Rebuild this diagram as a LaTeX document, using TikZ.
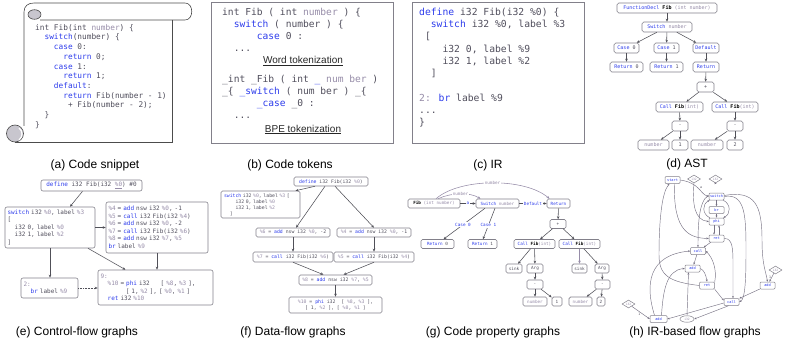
\documentclass[tikz,border=0pt]{standalone}
\usepackage{fontspec}
\setmainfont{Liberation Sans}
\newfontfamily\codefont{DejaVu Sans Mono}
\usetikzlibrary{arrows.meta,shapes.geometric}

\definecolor{kwblue}{RGB}{45,60,235}
\definecolor{codegray}{RGB}{80,78,92}
\definecolor{argray}{RGB}{150,140,168}
\definecolor{boxgray}{RGB}{130,128,138}
\definecolor{edgegray}{RGB}{80,80,88}
\definecolor{rollgray}{RGB}{200,198,206}
\definecolor{flowgray}{RGB}{120,115,132}

\newcommand\kwd[1]{\textcolor{kwblue}{#1}}
\newcommand\prm[1]{\textcolor{argray}{#1}}
\newcommand\fnb[1]{\textcolor{black}{\bfseries #1}}
\newcommand\cind[1]{\hspace*{#1\fontcharwd\font`0\relax}}

\tikzset{
  figcap/.style={font=\fontsize{12}{14}\selectfont, anchor=base, inner sep=0pt},
  toklbl/.style={font=\fontsize{10}{12}\selectfont, anchor=base, inner sep=0pt, text=black!85},
  panelbox/.style={draw=boxgray, line width=0.7pt},
  scrollln/.style={draw=black!70, line width=0.6pt},
  codeblk/.style={anchor=north west, align=left, inner sep=0pt, text=codegray},
  arr/.style={-{Stealth[length=3pt,width=2.5pt]}, draw=edgegray, line width=0.55pt},
  harr/.style={-{Stealth[length=2.3pt,width=1.9pt]}, draw=flowgray, line width=0.45pt},
  astn/.style={draw=boxgray, line width=0.55pt, rounded corners=1.8pt, inner sep=0pt,
    minimum height=10pt, font=\codefont\fontsize{5}{6}\selectfont, text=kwblue},
  cfgblk/.style={draw=boxgray, line width=0.6pt, rounded corners=2pt, align=left,
    inner ysep=0pt, inner xsep=2.5pt, text=codegray, font=\codefont\fontsize{6}{7.5}\selectfont},
  dfn/.style={draw=boxgray, line width=0.55pt, rounded corners=1.6pt, inner sep=0pt,
    minimum height=9pt, text=codegray, font=\codefont\fontsize{4.8}{6}\selectfont},
  cpn/.style={draw=boxgray, line width=0.55pt, rounded corners=1.6pt, inner sep=0pt,
    minimum height=9pt, text=codegray, font=\codefont\fontsize{4.3}{5}\selectfont},
  cplbl/.style={font=\codefont\fontsize{4.3}{5}\selectfont, inner sep=0.6pt, fill=white},
  irn/.style={draw=boxgray, line width=0.5pt, rounded corners=1pt, inner sep=0pt,
    minimum width=15pt, minimum height=7pt, text=kwblue, font=\codefont\fontsize{3.6}{4}\selectfont},
  irdia/.style={diamond, draw=boxgray, line width=0.5pt, inner sep=0pt, minimum width=13pt,
    minimum height=8pt, text=argray, font=\codefont\fontsize{3}{3.5}\selectfont},
  irlbl/.style={font=\codefont\fontsize{3.2}{3.6}\selectfont, text=codegray, inner sep=0.3pt},
}

\begin{document}
\begin{tikzpicture}[x=1pt,y=-1pt]
\useasboundingbox (0,0) rectangle (797,342);

% ---------------- (a) code snippet on a scroll ----------------
\draw[scrollln] (24,126) -- (24,12) .. controls (24,6) and (28,3) .. (34,3) -- (185,3)
  .. controls (194,3) and (194,20) .. (185,20) -- (40,20);
\draw[scrollln] (172,20) -- (172,142) -- (15,142);
\filldraw[scrollln, fill=rollgray] (15,133.5) circle (8.5pt);
\draw[scrollln, draw=white, line width=1.2pt] (19,128) .. controls (23,131) and (23,137) .. (19,140);
\filldraw[scrollln, fill=rollgray] (34.5,14.5) ellipse [x radius=6.5pt, y radius=4.8pt];
\node[codeblk, font=\codefont\fontsize{7.8}{9.7}\selectfont] (snippet) at (35,24.1) {%
int Fib(int \prm{number}) \{\\
\cind{2}\kwd{switch}(number) \{\\
\cind{4}\kwd{case} 0:\\
\cind{6}\kwd{return} 0;\\
\cind{4}\kwd{case} 1:\\
\cind{6}\kwd{return} 1;\\
\cind{4}\kwd{default}:\\
\cind{6}\kwd{return} Fib(number - 1)\\
\cind{7}+ Fib(number - 2);\\
\cind{2}\}\\
\}};
\node[figcap] (capa) at (95,168) {(a) Code snippet};

% ---------------- (b) code tokens ----------------
\draw[panelbox] (211,2) rectangle (393,143);
\node[codeblk, font=\codefont\fontsize{9.6}{12.2}\selectfont] (wordtok) at (222,7.7) {%
int Fib ( int \prm{number} ) \{\\
\cind{2}\kwd{switch} ( number ) \{\\
\cind{6}\kwd{case} 0 :\\
\cind{2}...};
\node[toklbl] (wordlbl) at (303,64) {\underline{Word tokenization}};
\node[codeblk, font=\codefont\fontsize{9.6}{12.2}\selectfont] (bpetok) at (222,74.7) {%
\_int \_Fib ( int \kwd{\_} \prm{num ber} )\\
\_\{ \kwd{\_switch} ( num ber ) \_\{\\
\cind{6}\kwd{\_case} \_0 :\\
\cind{2}...};
\node[toklbl] (bpelbl) at (303,132) {\underline{BPE tokenization}};
\node[figcap] (capb) at (290,168) {(b) Code tokens};

% ---------------- (c) IR ----------------
\draw[panelbox] (412,2) rectangle (584,143);
\node[codeblk, font=\codefont\fontsize{9.7}{12.3}\selectfont] (irtext) at (419,7.6) {%
\kwd{define} i32 Fib(i32 \%0) \{\\
\cind{2}\kwd{switch} i32 \%0, label \%3\\
\cind{1}[\\
\cind{4}i32 0, label \%9\\
\cind{4}i32 1, label \%2\\
\cind{2}]\\
\mbox{}\\
\prm{2:} \kwd{br} label \%9\\
...\\
\}};
\node[figcap] (capc) at (488,168) {(c) IR};

% ---------------- (d) AST ----------------
\node[astn, minimum width=100pt] (fdecl) at (667,8) {FunctionDecl \fnb{Fib} \prm{(int number)}};
\node[astn, minimum width=50pt] (asw) at (667,27) {Switch \prm{number}};
\node[astn, minimum width=25pt] (ac0) at (626.5,48) {Case \textcolor{codegray}{0}};
\node[astn, minimum width=25pt] (ac1) at (666.5,48) {Case \textcolor{codegray}{1}};
\node[astn, minimum width=26pt] (adef) at (706,48) {Default};
\node[astn, minimum width=33pt] (ar0) at (626.5,67) {Return \textcolor{codegray}{0}};
\node[astn, minimum width=33pt] (ar1) at (666.5,67) {Return \textcolor{codegray}{1}};
\node[astn, minimum width=26pt] (aret) at (706,67) {Return};
\node[astn, minimum width=17pt, text=codegray] (aplus) at (705.5,87) {+};
\node[astn, minimum width=47pt] (acall1) at (679.5,107) {Call \fnb{Fib}\prm{(int)}};
\node[astn, minimum width=46pt] (acall2) at (735,107) {Call \fnb{Fib}\prm{(int)}};
\node[astn, minimum width=16pt, text=codegray] (amin1) at (680,126) {-};
\node[astn, minimum width=16pt, text=codegray] (amin2) at (735,126) {-};
\node[astn, minimum width=31pt, text=argray] (anum1) at (653.5,145) {number};
\node[astn, minimum width=16pt, text=codegray] (aone) at (680,145) {1};
\node[astn, minimum width=32pt, text=argray] (anum2) at (707,145) {number};
\node[astn, minimum width=16pt, text=codegray] (atwo) at (735,145) {2};
\foreach \a/\b in {fdecl/asw, asw/ac0, asw/ac1, asw/adef, ac0/ar0, ac1/ar1, adef/aret,
  aret/aplus, aplus/acall1, aplus/acall2, acall1/amin1, acall2/amin2,
  amin1/anum1, amin1/aone, amin2/anum2, amin2/atwo}
  \draw[arr] (\a) -- (\b);
\node[figcap] (capd) at (687,167) {(d) AST};

% ---------------- (e) control-flow graph ----------------
\node[cfgblk, align=center, inner xsep=0pt, minimum width=101pt, minimum height=11pt] (edef) at (91.5,185.5)
  {\kwd{define} i32 Fib(i32 \prm{\underline{\%0}}) \#0};
\node[cfgblk, text width=85pt, minimum height=41pt] (esw) at (50,227.5) {%
\kwd{switch} i32 \prm{\%0}, label \prm{\%3}\\
{[}\\
\cind{2}i32 0, label \prm{\%0}\\
\cind{2}i32 1, label \prm{\%2}\\
]};
\node[cfgblk, text width=97pt, minimum height=51pt] (ebody) at (157,227.5) {%
\prm{\%4} = \kwd{add} nsw i32 \prm{\%0}, -1\\
\prm{\%5} = \kwd{call} i32 Fib(i32 \prm{\%4})\\
\prm{\%6} = \kwd{add} nsw i32 \prm{\%0}, -2\\
\prm{\%7} = \kwd{call} i32 Fib(i32 \prm{\%6})\\
\prm{\%8} = \kwd{add} nsw i32 \prm{\%7}, \prm{\%5}\\
\kwd{br} label \prm{\%9}};
\node[cfgblk, text width=52pt, minimum height=20pt] (etwo) at (49.5,288) {%
\prm{2:}\\
\cind{2}\kwd{br} label \prm{\%9}};
\node[cfgblk, text width=110pt, minimum height=35pt] (enine) at (155.5,287.5) {%
\prm{9:}\\
\cind{2}\prm{\%10} = \kwd{phi} i32\cind{3}[ \prm{\%8}, \prm{\%3} ],\\
\cind{7}[ 1, \prm{\%2} ], [ \prm{\%0}, \prm{\%1} ]\\
\cind{2}\kwd{ret} i32 \prm{\%10}};
\draw[arr] ([xshift=-9pt]edef.south) -- ([xshift=20pt]esw.north);
\draw[arr] (esw.east) -- (esw.east -| ebody.west);
\draw[arr] (esw.south) -- (esw.south |- etwo.north);
\draw[arr] ([xshift=38pt]esw.south) -- ([xshift=-30pt]enine.north);
\draw[arr] (ebody.south) -- (ebody.south |- enine.north);
\draw[arr, densely dotted] (etwo.east) -- (etwo.east -| enine.west);
\node[figcap] (cape) at (77,335) {(e) Control-flow graphs};

% ---------------- (f) data-flow graph ----------------
\node[dfn, minimum width=74pt] (fdef) at (331,181.5) {\kwd{define} i32 Fib(i32 \prm{\%0})};
\node[dfn, align=left, text width=73pt, inner xsep=3pt, minimum height=27pt] (fsw) at (260.5,204.5) {%
\kwd{switch} i32 \prm{\%0}, label \prm{\%3} [\\
\cind{4}i32 0, label \prm{\%0}\\
\cind{4}i32 1, label \prm{\%2}\\
\cind{2}]};
\node[dfn, minimum width=74pt] (fsix) at (293,232.5) {\prm{\%6} = \kwd{add} nsw i32 \prm{\%0}, -2};
\node[dfn, minimum width=74pt] (ffour) at (374,232.5) {\prm{\%4} = \kwd{add} nsw i32 \prm{\%0}, -1};
\node[dfn, minimum width=80pt, minimum height=10pt] (fseven) at (293,257) {\prm{\%7} = \kwd{call} i32 Fib(i32 \prm{\%6})};
\node[dfn, minimum width=80pt, minimum height=10pt] (ffive) at (374,257) {\prm{\%5} = \kwd{call} i32 Fib(i32 \prm{\%4})};
\node[dfn, minimum width=73pt, minimum height=10pt] (feight) at (335.5,280) {\prm{\%8} = \kwd{add} nsw i32 \prm{\%7}, \prm{\%5}};
\node[dfn, align=center, minimum width=93pt, minimum height=16pt] (ften) at (335.5,305) {%
\prm{\%10} = \kwd{phi} i32~~[ \prm{\%8}, \prm{\%3} ],\\
{[} 1, \prm{\%2} ], [ \prm{\%0}, \prm{\%1} ]};
\draw[arr] ([xshift=-16pt]fdef.south) -- ([xshift=35pt]fsw.north);
\draw[arr] ([xshift=-6pt]fdef.south) -- ([xshift=3pt]fsix.north);
\draw[arr] ([xshift=4pt]fdef.south) -- (ffour.north);
\draw[arr] (fsix) -- (fseven);
\draw[arr] (ffour) -- (ffive);
\draw[arr] (fseven.south) -- ([xshift=-12pt]feight.north);
\draw[arr] (ffive.south) -- ([xshift=8pt]feight.north);
\draw[arr] (feight) -- (ften);
\node[figcap] (capf) at (293,335) {(f) Data-flow graphs};

% ---------------- (g) code property graph ----------------
\node[cpn, minimum width=52pt] (gfib) at (434,203.5) {\fnb{Fib} \prm{(int number)}};
\node[cpn, minimum width=43pt] (gsw) at (497.5,203.5) {\kwd{Switch} \prm{number}};
\node[cpn, minimum width=23pt] (gret) at (558.5,203.5) {\kwd{Return}};
\node[cpn, minimum width=33pt] (grzero) at (437.5,244) {\kwd{Return} 0};
\node[cpn, minimum width=29pt] (grone) at (482.5,244) {\kwd{Return} 1};
\node[cpn, minimum width=16pt] (gplus) at (558,224) {+};
\node[cpn, minimum width=41pt] (gcallA) at (534.5,244) {\kwd{Call} \fnb{Fib}\prm{(int)}};
\node[cpn, minimum width=41pt] (gcallB) at (579.5,244) {\kwd{Call} \fnb{Fib}\prm{(int)}};
\node[cpn, minimum width=16pt] (gsinkA) at (514,268.5) {sink};
\node[cpn, minimum width=16pt] (gargA) at (535,268.5) {Arg};
\node[cpn, minimum width=15pt] (gsinkB) at (579.5,268.5) {sink};
\node[cpn, minimum width=14pt] (gargB) at (602,268.5) {Arg};
\node[cpn, minimum width=16pt] (gminA) at (535,284.5) {-};
\node[cpn, minimum width=15pt] (gminB) at (602.5,284.5) {-};
\node[cpn, minimum width=24pt, text=argray] (gnumA) at (535,301.5) {number};
\node[cpn, minimum width=10pt] (goneA) at (557,301.5) {1};
\node[cpn, minimum width=23pt, text=argray] (gnumB) at (580.5,301.5) {number};
\node[cpn, minimum width=8pt] (gtwoB) at (601,301.5) {2};
\draw[arr] (gfib) -- node[cplbl, text=kwblue] {a} (gsw);
\draw[arr] (gsw) -- node[cplbl, text=kwblue] {Default} (gret);
\draw[arr, draw=argray] ([xshift=4pt]gfib.north) .. controls (452,192.3) and (470,192.3)
  .. ([xshift=-17pt]gsw.north) node[cplbl, text=argray, pos=0.5] {number};
\draw[arr, draw=argray] ([xshift=2pt]gfib.north) .. controls (460,177.7) and (525,177.7)
  .. ([xshift=-9pt]gret.north) node[cplbl, text=argray, pos=0.5] {number};
\draw[arr] ([xshift=-12.5pt]gsw.south) -- node[cplbl, text=kwblue, pos=0.53] {Case 0} ([xshift=6pt]grzero.north);
\draw[arr] ([xshift=-2.5pt]gsw.south) -- node[cplbl, text=kwblue, pos=0.55] {Case 1} ([xshift=0.5pt]grone.north);
\foreach \a/\b in {gret/gplus, gplus/gcallA, gplus/gcallB, gcallA/gsinkA, gcallA/gargA,
  gargA/gminA, gminA/gnumA, gminA/goneA, gcallB/gargB, gargB/gminB, gminB/gnumB, gminB/gtwoB}
  \draw[arr] (\a) -- (\b);
\draw[arr, draw=argray, line width=1.1pt] (gcallB) -- (gsinkB);
\node[figcap] (capg) at (493,335) {(g) Code property graphs};

% ---------------- (h) IR-based flow graph ----------------
\node[irn] (hstart) at (672.5,180) {start};
\node[irdia] (hdA) at (694,179) {i32};
\node[irdia] (hdB) at (715.5,179) {i32};
\node[irn] (hsw) at (716.5,196.5) {switch};
\node[irn] (hbr) at (716.5,210) {br};
\node[irn] (hphi) at (716.5,221.5) {phi};
\node[irn] (hret) at (716.5,238.5) {ret};
\node[irn] (hcall) at (698,251) {call};
\node[irn] (hadd) at (692.5,268.5) {add};
\node[irn] (hretB) at (707,285.5) {ret};
\node[irn] (haddR) at (767.5,285.5) {add};
\node[irdia] (hdR) at (775.5,270) {i32};
\node[irn] (hcallB) at (731.5,302) {call};
\node[irdia] (hdL) at (628.5,304) {i32};
\node[irn, minimum width=17pt] (haddB) at (658.5,319) {add};
\node[ellipse, draw=boxgray, line width=0.5pt, inner sep=0pt, minimum width=14pt, minimum height=6.5pt,
  text=argray, font=\codefont\fontsize{3}{3.5}\selectfont] (hi32) at (687,319) {i32};

\draw[harr] (hstart.east) .. controls (700,183) and (700,194) .. (hsw.west)
  node[irlbl, pos=0.55, above right] {a};
\draw[harr, densely dashed] (hdB.south) -- (hdB.south -| hsw.north);
\draw[harr] (hdA.south) .. controls (692,205) and (695,220) .. (hphi.west);
\draw[harr] (hsw) -- (hbr);
\draw[harr] (hbr) -- (hphi);
\draw[harr] ([xshift=-1pt]hsw.south east) .. controls (731,204) and (731,214) .. ([xshift=-1pt]hphi.north east);
\draw[harr] ([xshift=1pt]hphi.north west) .. controls (702,214) and (702,204) .. ([xshift=1pt]hsw.south west);
\draw[harr] ([xshift=-2.5pt]hphi.south) -- ([xshift=-2.5pt]hret.north);
\draw[harr] ([xshift=2.5pt]hret.north) -- ([xshift=2.5pt]hphi.south);
\draw[harr] ([xshift=2pt]hret.south west) -- ([xshift=-2pt]hcall.north east);
\draw[harr] ([yshift=1pt]hsw.west) .. controls (698,200) and (698,230) .. (hcall.north);
\draw[harr] ([xshift=2pt]hstart.south) .. controls (673,232) and (690,238) .. (hret.west);
\draw[harr] (hretB.west) .. controls (670,282) and (659,276) .. (659,255)
  .. controls (659,220) and (662,192) .. ([xshift=-3pt]hstart.south);
\draw[harr] ([xshift=-4pt]haddB.north) .. controls (645,285) and (648,255) .. (hcall.west);
\draw[harr] ([xshift=3pt]haddB.north) .. controls (663,292) and (666,270) .. (hadd.west);
\draw[harr] (hcall) -- (hadd);
\draw[harr] (hadd.east) .. controls (704,270) and (706,275) .. (hretB.north);
\draw[harr] (hretB.north east) .. controls (717,270) and (713,258) .. (hcall.east);
\draw[harr] (hsw.east) .. controls (745,193) and (746,215) .. (746,250)
  .. controls (746,282) and (745,299) .. (hcallB.east);
\draw[harr] ([yshift=1pt]hsw.east) .. controls (755,190) and (762,205) .. (762,240)
  .. controls (762,265) and (766,272) .. (haddR.north);
\draw[harr] (hret.east) .. controls (733,238) and (733,250) .. (733,265) -- ([xshift=1.5pt]hcallB.north);
\draw[harr] (haddR) -- (hcallB);
\draw[harr] (hdR) -- (haddR) node[irlbl, pos=0.5, left] {1};
\draw[harr] (hretB.south east) -- ([yshift=1.5pt]hcallB.west);
\draw[harr] ([yshift=-1pt]hcallB.west) -- (haddB.east);
\draw[harr] ([xshift=-3pt]hcallB.south) -- (hi32.east);
\draw[harr] (hdL) -- (haddB.west) node[irlbl, pos=0.5, below left] {1};
\draw[harr] (hi32.north) -- ([xshift=-4pt]hadd.south);
\node[figcap] (caph) at (695,335) {(h) IR-based flow graphs};
\end{tikzpicture}
\end{document}
